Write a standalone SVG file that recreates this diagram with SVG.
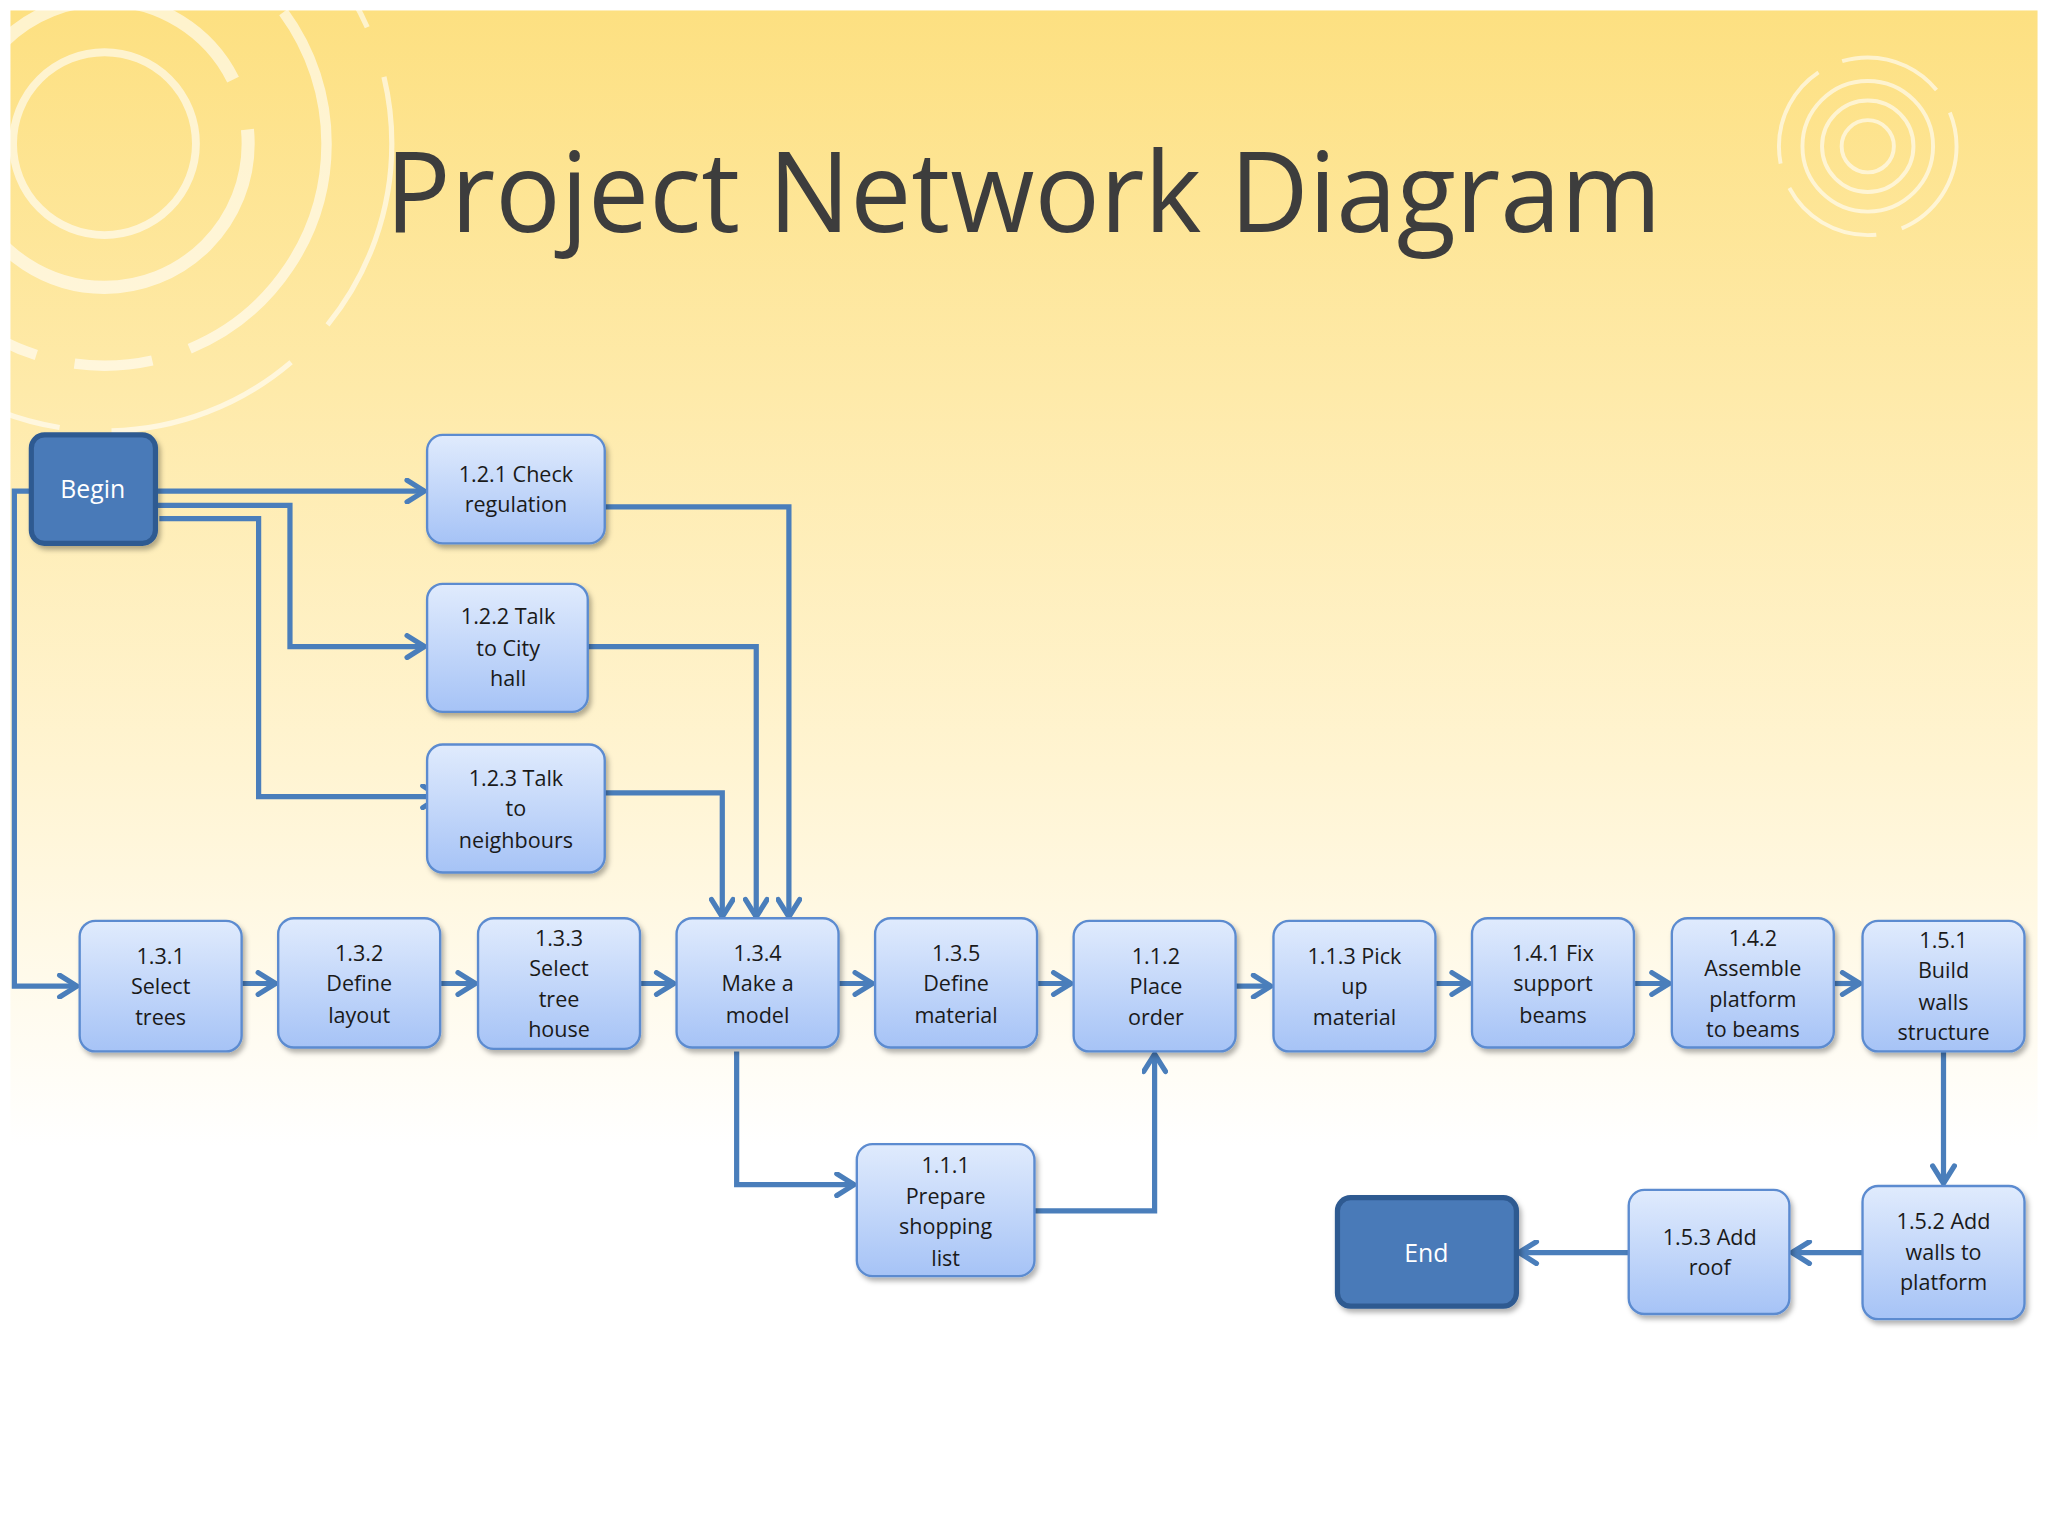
<svg xmlns="http://www.w3.org/2000/svg" width="2048" height="1536" viewBox="0 0 2048 1536">
<defs>
<linearGradient id="bg" x1="0" y1="0" x2="0" y2="1"><stop offset="0" stop-color="#fde081"/><stop offset="0.5" stop-color="#fff4d2"/><stop offset="0.75" stop-color="#ffffff"/></linearGradient>
<linearGradient id="nf" x1="0" y1="0" x2="0" y2="1"><stop offset="0" stop-color="#e0ebfd"/><stop offset="1" stop-color="#a6c3f6"/></linearGradient>
<marker id="ar" viewBox="0 0 12 12" refX="10" refY="6" markerWidth="5" markerHeight="5" orient="auto" markerUnits="strokeWidth"><path d="M2,1 L10,6 L2,11" fill="none" stroke="#4a7ebb" stroke-width="2.4" stroke-linecap="round" stroke-linejoin="round"/></marker>
<filter id="sh" x="-10%" y="-10%" width="130%" height="130%"><feDropShadow dx="2" dy="3" stdDeviation="2" flood-color="#000" flood-opacity="0.3"/></filter>
</defs>
<style>
.n{fill:url(#nf);stroke:#5b8bd0;stroke-width:1.8;filter:url(#sh)}
.d{fill:#4a7ab8;stroke:#2f5a91;stroke-width:4;filter:url(#sh)}
.t{font-family:"Open Sans","Liberation Sans",sans-serif;font-size:16.5px;fill:#1a1a1a;text-anchor:middle}
.w{font-family:"Open Sans","Liberation Sans",sans-serif;font-size:19px;fill:#ffffff;text-anchor:middle}
.c{fill:none;stroke:#4a7ebb;stroke-width:4;marker-end:url(#ar)}
.ring{fill:none;stroke:#ffffff;opacity:0.6}
</style>
<rect width="2048" height="1536" fill="#ffffff"/>
<g transform="scale(1.30612)">
<rect x="8" y="8" width="1552" height="1160" fill="url(#bg)"/>
<g id="deco">
<circle class="ring" cx="80" cy="110" r="70" stroke-width="6"/>
<circle class="ring" cx="80" cy="110" r="110" stroke-width="10" stroke-dasharray="300 40"/>
<circle class="ring" cx="80" cy="110" r="170" stroke-width="8" stroke-dasharray="200 30 60 30"/>
<circle class="ring" cx="80" cy="110" r="220" stroke-width="4" stroke-dasharray="150 40"/>
<circle class="ring" cx="1430" cy="112" r="20" stroke-width="3"/>
<circle class="ring" cx="1430" cy="112" r="35" stroke-width="3"/>
<circle class="ring" cx="1430" cy="112" r="50" stroke-width="3"/>
<circle class="ring" cx="1430" cy="112" r="68" stroke-width="3" stroke-dasharray="80 20"/>
</g>
<text x="295" y="178" font-family="'Open Sans','Liberation Sans',sans-serif" font-size="86" fill="#3d3d3d" textLength="977" lengthAdjust="spacingAndGlyphs">Project Network Diagram</text>
<g id="connectors">
<path class="c" d="M119,376 H325"/>
<path class="c" d="M119,387 H222 V495 H325"/>
<path class="c" d="M122,397 H198 V610 H337"/>
<path class="c" d="M24,376 H11 V755 H59"/>
<path class="c" d="M463,388 H604 V702"/>
<path class="c" d="M450,495 H579 V702"/>
<path class="c" d="M463,607 H553 V702"/>
<path class="c" d="M185,753 H211"/>
<path class="c" d="M337,753 H364"/>
<path class="c" d="M490,753 H516"/>
<path class="c" d="M642,753 H668"/>
<path class="c" d="M794,753 H820"/>
<path class="c" d="M946,755 H973"/>
<path class="c" d="M1099,753 H1125"/>
<path class="c" d="M1251,753 H1278"/>
<path class="c" d="M1404,753 H1424"/>
<path class="c" d="M564,805 V907 H654"/>
<path class="c" d="M792,927 H884 V807"/>
<path class="c" d="M1488,805 V906"/>
<path class="c" d="M1426,959 H1372"/>
<path class="c" d="M1247,959 H1163"/>
</g>
<g id="begin"><rect class="d" x="24" y="333" width="95" height="83" rx="10"/><text class="w" x="71" y="381">Begin</text></g>
<g id="end"><rect class="d" x="1024" y="917" width="137" height="83" rx="10"/><text class="w" x="1092" y="966">End</text></g>
<g id="n121"><rect class="n" x="327" y="333" width="136" height="83" rx="12"/><text class="t" x="395" y="369">1.2.1 Check</text><text class="t" x="395" y="392">regulation</text></g>
<g id="n122"><rect class="n" x="327" y="447" width="123" height="98" rx="12"/><text class="t" x="389" y="478">1.2.2 Talk</text><text class="t" x="389" y="502">to City</text><text class="t" x="389" y="525">hall</text></g>
<g id="n123"><rect class="n" x="327" y="570" width="136" height="98" rx="12"/><text class="t" x="395" y="602">1.2.3 Talk</text><text class="t" x="395" y="625">to</text><text class="t" x="395" y="649">neighbours</text></g>
<g id="n131"><rect class="n" x="61" y="705" width="124" height="100" rx="12"/><text class="t" x="123" y="738">1.3.1</text><text class="t" x="123" y="761">Select</text><text class="t" x="123" y="785">trees</text></g>
<g id="n132"><rect class="n" x="213" y="703" width="124" height="99" rx="12"/><text class="t" x="275" y="736">1.3.2</text><text class="t" x="275" y="759">Define</text><text class="t" x="275" y="783">layout</text></g>
<g id="n133"><rect class="n" x="366" y="703" width="124" height="100" rx="12"/><text class="t" x="428" y="724">1.3.3</text><text class="t" x="428" y="747">Select</text><text class="t" x="428" y="771">tree</text><text class="t" x="428" y="794">house</text></g>
<g id="n134"><rect class="n" x="518" y="703" width="124" height="99" rx="12"/><text class="t" x="580" y="736">1.3.4</text><text class="t" x="580" y="759">Make a</text><text class="t" x="580" y="783">model</text></g>
<g id="n135"><rect class="n" x="670" y="703" width="124" height="99" rx="12"/><text class="t" x="732" y="736">1.3.5</text><text class="t" x="732" y="759">Define</text><text class="t" x="732" y="783">material</text></g>
<g id="n112"><rect class="n" x="822" y="705" width="124" height="100" rx="12"/><text class="t" x="885" y="738">1.1.2</text><text class="t" x="885" y="761">Place</text><text class="t" x="885" y="785">order</text></g>
<g id="n113"><rect class="n" x="975" y="705" width="124" height="100" rx="12"/><text class="t" x="1037" y="738">1.1.3 Pick</text><text class="t" x="1037" y="761">up</text><text class="t" x="1037" y="785">material</text></g>
<g id="n141"><rect class="n" x="1127" y="703" width="124" height="99" rx="12"/><text class="t" x="1189" y="736">1.4.1 Fix</text><text class="t" x="1189" y="759">support</text><text class="t" x="1189" y="783">beams</text></g>
<g id="n142"><rect class="n" x="1280" y="703" width="124" height="99" rx="12"/><text class="t" x="1342" y="724">1.4.2</text><text class="t" x="1342" y="747">Assemble</text><text class="t" x="1342" y="771">platform</text><text class="t" x="1342" y="794">to beams</text></g>
<g id="n151"><rect class="n" x="1426" y="705" width="124" height="100" rx="12"/><text class="t" x="1488" y="726">1.5.1</text><text class="t" x="1488" y="749">Build</text><text class="t" x="1488" y="773">walls</text><text class="t" x="1488" y="796">structure</text></g>
<g id="n111"><rect class="n" x="656" y="876" width="136" height="101" rx="12"/><text class="t" x="724" y="898">1.1.1</text><text class="t" x="724" y="922">Prepare</text><text class="t" x="724" y="945">shopping</text><text class="t" x="724" y="969">list</text></g>
<g id="n153"><rect class="n" x="1247" y="911" width="123" height="95" rx="12"/><text class="t" x="1309" y="953">1.5.3 Add</text><text class="t" x="1309" y="976">roof</text></g>
<g id="n152"><rect class="n" x="1426" y="908" width="124" height="102" rx="12"/><text class="t" x="1488" y="941">1.5.2 Add</text><text class="t" x="1488" y="965">walls to</text><text class="t" x="1488" y="988">platform</text></g>
</g>
</svg>
